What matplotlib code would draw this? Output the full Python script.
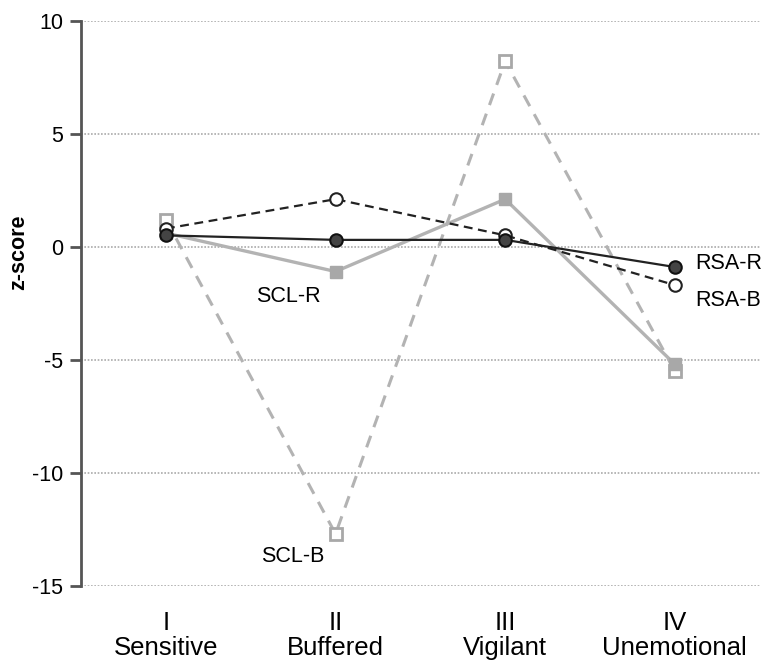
import matplotlib
matplotlib.use("Agg")
import matplotlib.pyplot as plt

plt.rcParams['font.family'] = ['Liberation Sans', 'DejaVu Sans']

categories = ["I\nSensitive", "II\nBuffered", "III\nVigilant", "IV\nUnemotional"]
rsa_r = [0.5, 0.3, 0.3, -0.9]
rsa_b = [0.8, 2.1, 0.5, -1.7]
scl_r = [0.6, -1.1, 2.1, -5.2]
scl_b = [1.2, -12.7, 8.2, -5.5]
yticks = [10, 5, 0, -5, -10, -15]

x = list(range(1, len(categories) + 1))

fig = plt.figure(figsize=(7.65, 6.62), dpi=100)
ax = fig.add_axes([0.106, 0.115, 0.887, 0.854])

light = '#b3b3b3'
ax.plot(x, scl_b, color=light, lw=2.2, ls=(0, (4, 3)), marker='s', ms=8,
        mfc='white', mec='#a8a8a8', mew=2, zorder=2)
ax.plot(x, scl_r, color=light, lw=2.4, ls='-', marker='s', ms=9,
        mfc='#a8a8a8', mec='#a8a8a8', zorder=3)
ax.plot(x, rsa_b, color='#222222', lw=1.6, ls=(0, (4, 2.5)), marker='o', ms=9,
        mfc='white', mec='#222222', mew=1.5, zorder=4)
ax.plot(x, rsa_r, color='#222222', lw=1.6, ls='-', marker='o', ms=9,
        mfc='#444444', mec='#111111', mew=1.5, zorder=5)

ax.set_xlim(0.5, 4.5)
ax.set_ylim(-15, 10)
ax.set_yticks(yticks)
ax.set_yticklabels([str(t) for t in yticks])
ax.set_xticks(x)
ax.set_xticklabels(categories, linespacing=1.05)
ax.tick_params(axis='x', length=0, pad=18, labelsize=18.5)
ax.tick_params(axis='y', length=8, width=2, color='#555555', labelsize=15.5, pad=5)
ax.set_ylabel('z-score', fontsize=15.5, fontweight='bold')
ax.yaxis.set_label_coords(-0.077, 0.59)
for t in yticks:
    ax.axhline(t, color='#aaaaaa', lw=1.2, ls=(0, (1, 1)), zorder=1)

for s in ['top', 'right', 'bottom']:
    ax.spines[s].set_visible(False)
ax.spines['left'].set_linewidth(2)
ax.spines['left'].set_color('#555555')

ax.text(1.53, -2.2, 'SCL-R', fontsize=15.5, ha='left', va='center')
ax.text(1.56, -13.7, 'SCL-B', fontsize=15.5, ha='left', va='center')
ax.text(4.12, -0.75, 'RSA-R', fontsize=15.5, ha='left', va='center')
ax.text(4.12, -2.4, 'RSA-B', fontsize=15.5, ha='left', va='center')

fig.savefig('out.png', dpi=100)
